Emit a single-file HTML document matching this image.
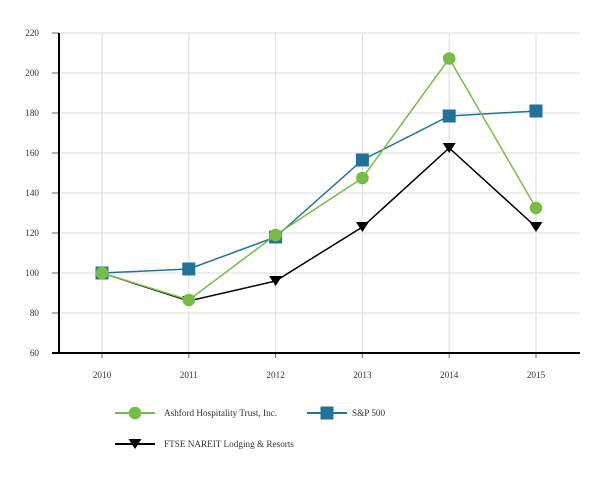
<!DOCTYPE html>
<html><head><meta charset="utf-8"><style>
html,body{margin:0;padding:0;background:#fff;}
svg{display:block;}
text{font-family:"Liberation Serif",serif;font-size:9.2px;fill:#333;}
</style></head><body>
<svg width="613" height="480" viewBox="0 0 613 480" xmlns="http://www.w3.org/2000/svg">
<rect width="613" height="480" fill="#fff"/>
<g stroke="#e2e2e2" stroke-width="1.3">
<line x1="59" y1="33" x2="580" y2="33"/>
<line x1="59" y1="73" x2="580" y2="73"/>
<line x1="59" y1="113" x2="580" y2="113"/>
<line x1="59" y1="153" x2="580" y2="153"/>
<line x1="59" y1="193" x2="580" y2="193"/>
<line x1="59" y1="233" x2="580" y2="233"/>
<line x1="59" y1="273" x2="580" y2="273"/>
<line x1="59" y1="313" x2="580" y2="313"/>
<line x1="102" y1="33" x2="102" y2="353"/>
<line x1="188.8" y1="33" x2="188.8" y2="353"/>
<line x1="275.6" y1="33" x2="275.6" y2="353"/>
<line x1="362.4" y1="33" x2="362.4" y2="353"/>
<line x1="449.2" y1="33" x2="449.2" y2="353"/>
<line x1="536" y1="33" x2="536" y2="353"/>
</g>
<g stroke="#666" stroke-width="1">
<line x1="52" y1="33" x2="59" y2="33"/>
<line x1="52" y1="73" x2="59" y2="73"/>
<line x1="52" y1="113" x2="59" y2="113"/>
<line x1="52" y1="153" x2="59" y2="153"/>
<line x1="52" y1="193" x2="59" y2="193"/>
<line x1="52" y1="233" x2="59" y2="233"/>
<line x1="52" y1="273" x2="59" y2="273"/>
<line x1="52" y1="313" x2="59" y2="313"/>
<line x1="102" y1="353" x2="102" y2="358"/>
<line x1="188.8" y1="353" x2="188.8" y2="358"/>
<line x1="275.6" y1="353" x2="275.6" y2="358"/>
<line x1="362.4" y1="353" x2="362.4" y2="358"/>
<line x1="449.2" y1="353" x2="449.2" y2="358"/>
<line x1="536" y1="353" x2="536" y2="358"/>
</g>
<line x1="52" y1="353" x2="580" y2="353" stroke="#000" stroke-width="2"/>
<line x1="59" y1="33" x2="59" y2="354" stroke="#000" stroke-width="2"/>
<g text-anchor="end">
<text x="39" y="36">220</text>
<text x="39" y="76">200</text>
<text x="39" y="116">180</text>
<text x="39" y="156">160</text>
<text x="39" y="196">140</text>
<text x="39" y="236">120</text>
<text x="39" y="276">100</text>
<text x="39" y="316">80</text>
<text x="39" y="356">60</text>
</g>
<g text-anchor="middle">
<text x="102" y="378">2010</text>
<text x="188.8" y="378">2011</text>
<text x="275.6" y="378">2012</text>
<text x="362.4" y="378">2013</text>
<text x="449.2" y="378">2014</text>
<text x="536" y="378">2015</text>
</g>
<!-- FTSE -->
<polyline fill="none" stroke="#000" stroke-width="1.5" points="102,273 188.8,301 275.6,281 362.4,227 449.2,148 536,227"/>
<g fill="#000">
<polygon points="95.5,268 108.5,268 102,278"/>
<polygon points="182.3,296 195.3,296 188.8,306"/>
<polygon points="269.1,276 282.1,276 275.6,286"/>
<polygon points="355.9,222 368.9,222 362.4,232"/>
<polygon points="442.7,143 455.7,143 449.2,153"/>
<polygon points="529.5,222 542.5,222 536,232"/>
</g>
<!-- S&P -->
<polyline fill="none" stroke="#23729b" stroke-width="1.5" points="102,273 188.8,269 275.6,237 362.4,160 449.2,116 536,111"/>
<g fill="#23729b">
<rect x="95.5" y="266.5" width="13" height="13"/>
<rect x="182.3" y="262.5" width="13" height="13"/>
<rect x="269.1" y="230.5" width="13" height="13"/>
<rect x="355.9" y="153.5" width="13" height="13"/>
<rect x="442.7" y="109.5" width="13" height="13"/>
<rect x="529.5" y="104.5" width="13" height="13"/>
</g>
<!-- Ashford -->
<polyline fill="none" stroke="#77bc47" stroke-width="1.5" points="102,273 188.8,300 275.6,235 362.4,178 449.2,58.5 536,208"/>
<g fill="#77bc47">
<circle cx="102" cy="273" r="6.3"/>
<circle cx="188.8" cy="300" r="6.3"/>
<circle cx="275.6" cy="235" r="6.3"/>
<circle cx="362.4" cy="178" r="6.3"/>
<circle cx="449.2" cy="58.5" r="6.3"/>
<circle cx="536" cy="208" r="6.3"/>
</g>
<!-- legend -->
<line x1="115" y1="413" x2="155" y2="413" stroke="#77bc47" stroke-width="2"/>
<circle cx="135" cy="413" r="6.3" fill="#77bc47"/>
<text x="164" y="416">Ashford Hospitality Trust, Inc.</text>
<line x1="307" y1="413" x2="347" y2="413" stroke="#23729b" stroke-width="2"/>
<rect x="320.5" y="406.5" width="13" height="13" fill="#23729b"/>
<text x="352" y="416">S&amp;P 500</text>
<line x1="115" y1="444" x2="155" y2="444" stroke="#000" stroke-width="2"/>
<polygon points="128.5,439 141.5,439 135,449" fill="#000"/>
<text x="164" y="447">FTSE NAREIT Lodging &amp; Resorts</text>
</svg>
</body></html>
